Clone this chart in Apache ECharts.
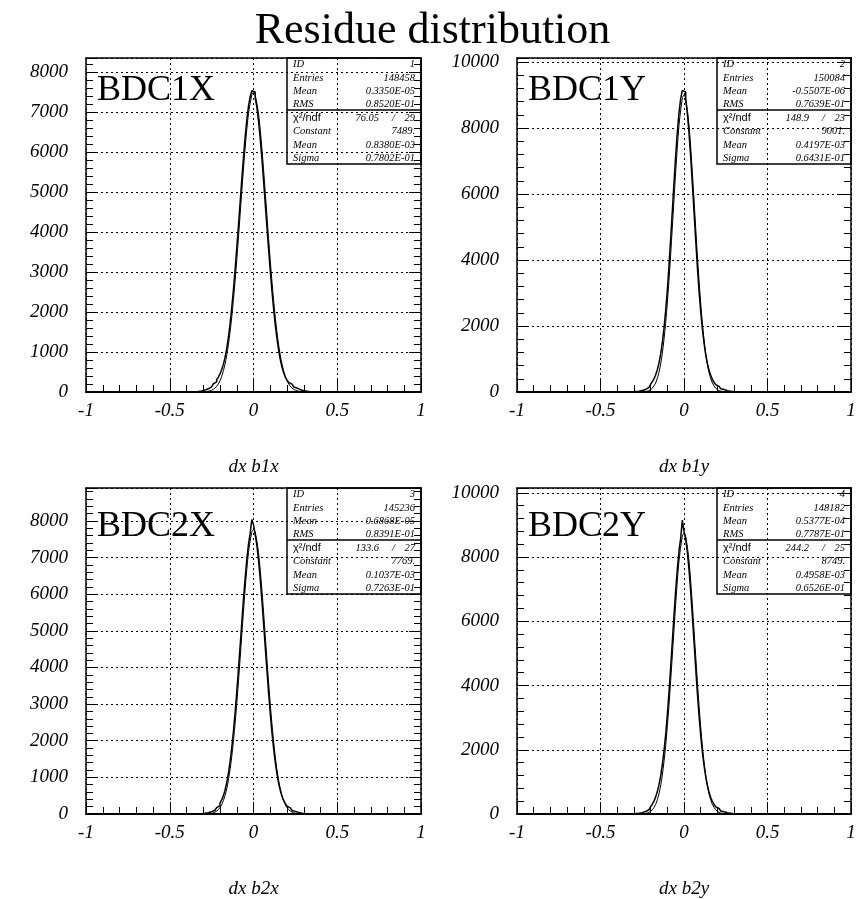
<!DOCTYPE html>
<html>
<head>
<meta charset="utf-8">
<script src="https://cdn.jsdelivr.net/npm/echarts@6/dist/echarts.min.js"></script>
<style>
  html, body { margin: 0; padding: 0; background: #fff; }
  #main { width: 865px; height: 899px; }
</style>
</head>
<body>
<div id="main"></div>
<script>
// binning of the four residue histograms
const binLow = -0.35;
const binWidth = 0.01;

// bin contents, 70 bins from -0.35 to 0.35
const countsB1x = [8, 13, 20, 28, 37, 48, 62, 80, 103, 130, 165, 205, 255, 310, 370, 450, 555, 690, 860, 1080,
                   1360, 1700, 2100, 2550, 3050, 3590, 4150, 4730, 5310, 5860, 6360, 6800, 7140, 7380, 7530,
                   7500, 7360, 7120, 6780, 6340, 5840, 5290, 4710, 4130, 3570, 3030, 2530, 2080, 1680, 1340,
                   1050, 810, 625, 480, 370, 295, 240, 195, 155, 125, 98, 76, 58, 44, 33, 24, 17, 11, 7, 4];
const countsB1y = [1, 3, 4, 7, 10, 14, 19, 25, 33, 44, 60, 78, 104, 136, 180, 235, 305, 395, 515, 670,
                   875, 1140, 1490, 1920, 2450, 3075, 3815, 4625, 5475, 6330, 7140, 7870, 8460, 8890, 9140,
                   9090, 8870, 8440, 7850, 7120, 6310, 5465, 4610, 3800, 3065, 2440, 1910, 1480, 1130, 865,
                   660, 505, 385, 295, 225, 172, 130, 98, 74, 56, 41, 31, 23, 17, 12, 8, 5, 3, 2, 1];
const countsB2x = [2, 4, 6, 10, 14, 19, 25, 33, 45, 60, 79, 103, 136, 176, 228, 296, 386, 495, 650, 850,
                   1105, 1420, 1800, 2245, 2755, 3325, 3940, 4580, 5225, 5855, 6435, 6945, 7360, 7660, 8040,
                   7900, 7630, 7340, 6930, 6420, 5840, 5215, 4570, 3930, 3315, 2745, 2235, 1790, 1410, 1095,
                   840, 640, 485, 372, 284, 216, 167, 128, 96, 72, 54, 40, 30, 22, 16, 12, 8, 5, 3, 2];
const countsB2y = [1, 2, 4, 6, 9, 13, 18, 24, 32, 43, 57, 76, 99, 132, 175, 230, 305, 400, 525, 690,
                   905, 1180, 1525, 1950, 2460, 3070, 3780, 4555, 5365, 6175, 6945, 7630, 8190, 8580, 9150,
                   8800, 8560, 8170, 7610, 6930, 6160, 5355, 4545, 3770, 3060, 2450, 1935, 1510, 1165, 890,
                   675, 515, 390, 296, 224, 170, 127, 95, 72, 54, 40, 30, 22, 16, 11, 8, 5, 3, 2, 1];

// gaussian fit curves read at these x positions
const fitX = [-0.31, -0.29, -0.27, -0.25, -0.23, -0.21, -0.19, -0.17, -0.15, -0.13, -0.11, -0.09, -0.07, -0.05, -0.03, -0.01,
              0, 0.01, 0.03, 0.05, 0.07, 0.09, 0.11, 0.13, 0.15, 0.17, 0.19, 0.21, 0.23, 0.25, 0.27, 0.29, 0.31];
const fitB1x = [3, 7, 19, 44, 97, 200, 386, 697, 1179, 1868, 2770, 3849, 5006, 6098, 6955, 7428,
                7489, 7428, 6955, 6098, 5006, 3849, 2770, 1868, 1179, 697, 386, 200, 97, 44, 19, 7, 3];
const fitB1y = [0, 0, 1, 5, 15, 43, 114, 273, 592, 1166, 2084, 3380, 4977, 6653, 8073, 8893,
                9001, 8893, 8073, 6653, 4977, 3380, 2084, 1166, 592, 273, 114, 43, 15, 5, 1, 0, 0];
const fitB2x = [1, 3, 8, 21, 51, 118, 253, 501, 919, 1564, 2465, 3603, 4881, 6128, 7134, 7696,
                7769, 7696, 7134, 6128, 4881, 3603, 2465, 1564, 919, 501, 253, 118, 51, 21, 8, 3, 1];
const fitB2y = [0, 1, 2, 6, 18, 50, 127, 296, 625, 1206, 2117, 3384, 4925, 6526, 7873, 8647,
                8749, 8647, 7873, 6526, 4925, 3384, 2117, 1206, 625, 296, 127, 50, 18, 6, 2, 1, 0];

// axes
const yMax = [8350, 10120, 8900, 10150];
const yStep = [1000, 2000, 1000, 2000];
const xNames = ['dx b1x', 'dx b1y', 'dx b2x', 'dx b2y'];
const tags = ['BDC1X', 'BDC1Y', 'BDC2X', 'BDC2Y'];

// stat boxes
const statLabels = ['ID', 'Entries', 'Mean', 'RMS', 'χ²/ndf', 'Constant', 'Mean', 'Sigma'];
const statB1x = ['1', '148458', '0.3350E-05', '0.8520E-01', ['76.05', '29'], '7489.', '0.8380E-03', '0.7802E-01'];
const statB1y = ['2', '150084', '-0.5507E-06', '0.7639E-01', ['148.9', '23'], '9001.', '0.4197E-03', '0.6431E-01'];
const statB2x = ['3', '145236', '0.6868E-05', '0.8391E-01', ['133.6', '27'], '7769.', '0.1037E-03', '0.7263E-01'];
const statB2y = ['4', '148182', '0.5377E-04', '0.7787E-01', ['244.2', '25'], '8749.', '0.4958E-03', '0.6526E-01'];

const counts = [countsB1x, countsB1y, countsB2x, countsB2y];
const fits = [fitB1x, fitB1y, fitB2x, fitB2y];
const stats = [statB1x, statB1y, statB2x, statB2y];

const serif = 'Liberation Serif';
const grids = [
  {left: 86, top: 58, width: 335, height: 334},
  {left: 517, top: 58, width: 334, height: 334},
  {left: 86, top: 488, width: 335, height: 334},
  {left: 517, top: 488, width: 334, height: 334}
];
const tagY = [94, 94, 530, 530];

function histPoints(c) {
  const pts = [[-1, 0]];
  c.forEach((v, i) => pts.push([+(binLow + i * binWidth).toFixed(3), v]));
  pts.push([+(binLow + c.length * binWidth).toFixed(3), 0]);
  pts.push([1, 0]);
  return pts;
}

const xAxis = [], yAxis = [], series = [], graphic = [];
grids.forEach((g, i) => {
  xAxis.push({
    type: 'value', gridIndex: i, min: -1, max: 1, interval: 0.5,
    name: xNames[i], nameLocation: 'middle', nameGap: 65,
    nameTextStyle: {fontFamily: serif, fontStyle: 'italic', fontSize: 19, color: '#000'},
    axisLine: {show: true, lineStyle: {color: '#000', width: 2}},
    axisTick: {show: true, inside: true, length: 12, lineStyle: {color: '#000', width: 1}},
    minorTick: {show: true, splitNumber: 5, length: 7, lineStyle: {color: '#000', width: 1}},
    splitLine: {show: true, lineStyle: {color: '#000', type: [2, 3], width: 1}},
    axisLabel: {fontFamily: serif, fontStyle: 'italic', fontSize: 19, color: '#000', margin: 9,
      formatter: v => String(v)}
  });
  xAxis.push({
    type: 'value', gridIndex: i, position: 'top', min: -1, max: 1,
    axisLine: {show: true, onZero: false, lineStyle: {color: '#000', width: 1.5}},
    axisTick: {show: false}, axisLabel: {show: false}, splitLine: {show: false}
  });
  yAxis.push({
    type: 'value', gridIndex: i, min: 0, max: yMax[i], interval: yStep[i],
    axisLine: {show: true, onZero: false, lineStyle: {color: '#000', width: 1.5}},
    axisTick: {show: true, inside: true, length: 12, lineStyle: {color: '#000', width: 1}},
    minorTick: {show: true, splitNumber: 5, length: 7, lineStyle: {color: '#000', width: 1}},
    splitLine: {show: true, lineStyle: {color: '#000', type: [2, 3], width: 1}},
    axisLabel: {fontFamily: serif, fontStyle: 'italic', fontSize: 19, color: '#000', margin: 18,
      showMaxLabel: false, formatter: v => String(v)}
  });
  yAxis.push({
    type: 'value', gridIndex: i, position: 'right', min: 0, max: yMax[i], interval: yStep[i],
    axisLine: {show: true, onZero: false, lineStyle: {color: '#000', width: 1.5}},
    axisTick: {show: true, inside: true, length: 12, lineStyle: {color: '#000', width: 1}},
    minorTick: {show: true, splitNumber: 5, length: 7, lineStyle: {color: '#000', width: 1}},
    splitLine: {show: false}, axisLabel: {show: false}
  });

  series.push({
    type: 'line', xAxisIndex: 2 * i, yAxisIndex: 2 * i, data: histPoints(counts[i]),
    step: 'end', showSymbol: false, animation: false,
    lineStyle: {color: '#000', width: 1.5}
  });
  series.push({
    type: 'line', xAxisIndex: 2 * i, yAxisIndex: 2 * i,
    data: fitX.map((x, k) => [x, fits[i][k]]),
    smooth: 0.3, showSymbol: false, animation: false,
    lineStyle: {color: '#000', width: 1}
  });

  // big detector label
  graphic.push({
    type: 'text', left: g.left + 11, top: tagY[i] - 21,
    style: {text: tags[i], fontFamily: serif, fontSize: 36, fill: '#000'}
  });

  // stat box
  const bw = 134, bh = 106, bx = g.left + g.width - bw, by = g.top;
  graphic.push({type: 'rect', shape: {x: bx, y: by, width: bw, height: bh},
    style: {fill: 'none', stroke: '#000', lineWidth: 1.5}});
  graphic.push({type: 'line', shape: {x1: bx, y1: by + 52, x2: bx + bw, y2: by + 52},
    style: {stroke: '#000', lineWidth: 1.5}});
  statLabels.forEach((lab, r) => {
    const cy = by + 6.5 + r * 13.4;
    const isChi = r === 4;
    graphic.push({type: 'text', x: bx + 6, y: cy,
      style: {text: lab, fontFamily: isChi ? 'Liberation Sans' : serif,
        fontStyle: isChi ? 'normal' : 'italic', fontSize: isChi ? 11 : 10.5,
        fill: '#000', textVerticalAlign: 'middle'}});
    const val = stats[i][r];
    const vs = {fontFamily: serif, fontStyle: 'italic', fontSize: 10.5, fill: '#000',
      textVerticalAlign: 'middle', textAlign: 'right'};
    if (Array.isArray(val)) {
      graphic.push({type: 'text', x: bx + bw - 42, y: cy, style: Object.assign({text: val[0]}, vs)});
      graphic.push({type: 'text', x: bx + bw - 26, y: cy, style: Object.assign({text: '/'}, vs)});
      graphic.push({type: 'text', x: bx + bw - 6, y: cy, style: Object.assign({text: val[1]}, vs)});
    } else {
      graphic.push({type: 'text', x: bx + bw - 6, y: cy, style: Object.assign({text: val}, vs)});
    }
  });
});

const chart = echarts.init(document.getElementById('main'));
chart.setOption({
  backgroundColor: '#fff',
  animation: false,
  title: {
    text: 'Residue distribution', left: 'center', top: 4,
    textStyle: {fontFamily: serif, fontSize: 44, fontWeight: 'normal', color: '#000'}
  },
  grid: grids,
  xAxis: xAxis,
  yAxis: yAxis,
  series: series,
  graphic: graphic
});
</script>
</body>
</html>
